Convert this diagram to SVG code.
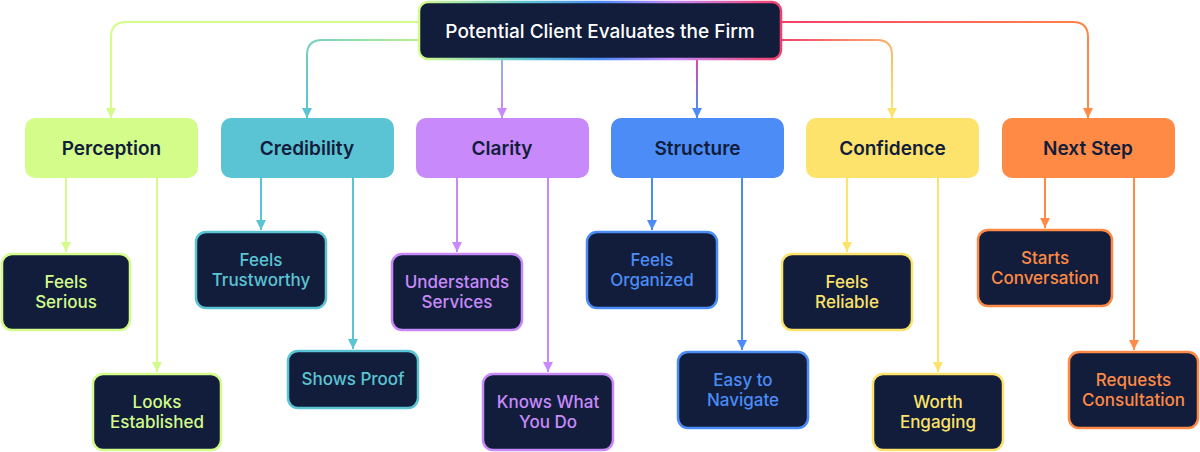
<svg xmlns="http://www.w3.org/2000/svg" width="1200" height="452" viewBox="0 0 1200 452">
<defs>
<style>
text{font-family:Inter,"Noto Sans",sans-serif;text-anchor:middle}
.cat{font-size:19px;font-weight:600;fill:#111d3a}
.ch{font-size:17px;font-weight:500}
.cbox{fill:#111d3a;stroke-width:2.5}
line,path{fill:none;stroke-width:2}
</style>
<linearGradient id="rg" x1="0" y1="0" x2="1" y2="0">
<stop offset="0" stop-color="#d4fc8a"/><stop offset="0.3" stop-color="#5bc4d4"/><stop offset="0.5" stop-color="#4b8cf7"/><stop offset="0.7" stop-color="#c88afa"/><stop offset="1" stop-color="#f43f6a"/>
</linearGradient>
<linearGradient id="gCred" gradientUnits="userSpaceOnUse" x1="418" y1="40" x2="307" y2="110"><stop offset="0" stop-color="#b8ef92"/><stop offset="1" stop-color="#5bc4d4"/></linearGradient>
<linearGradient id="gStr" gradientUnits="userSpaceOnUse" x1="0" y1="60" x2="0" y2="110"><stop offset="0" stop-color="#d94aa8"/><stop offset="1" stop-color="#4b8cf7"/></linearGradient>
<linearGradient id="gCla" gradientUnits="userSpaceOnUse" x1="0" y1="60" x2="0" y2="110"><stop offset="0" stop-color="#8fb3e8"/><stop offset="1" stop-color="#c88afa"/></linearGradient>
<linearGradient id="gCon" gradientUnits="userSpaceOnUse" x1="782" y1="40" x2="892" y2="110"><stop offset="0" stop-color="#f43f6a"/><stop offset="1" stop-color="#fde36b"/></linearGradient>
<linearGradient id="gNxt" gradientUnits="userSpaceOnUse" x1="782" y1="22" x2="1088" y2="110"><stop offset="0" stop-color="#f43f6a"/><stop offset="1" stop-color="#ff8a45"/></linearGradient>
<marker id="aT" viewBox="0 0 10 10" refX="10" refY="5" markerWidth="10" markerHeight="10" markerUnits="userSpaceOnUse" orient="auto"><path d="M0,0L10,5L0,10Z" style="fill:#5bc4d4;stroke:none"/></marker>
<marker id="aP" viewBox="0 0 10 10" refX="10" refY="5" markerWidth="10" markerHeight="10" markerUnits="userSpaceOnUse" orient="auto"><path d="M0,0L10,5L0,10Z" style="fill:#c88afa;stroke:none"/></marker>
<marker id="aB" viewBox="0 0 10 10" refX="10" refY="5" markerWidth="10" markerHeight="10" markerUnits="userSpaceOnUse" orient="auto"><path d="M0,0L10,5L0,10Z" style="fill:#4b8cf7;stroke:none"/></marker>
<marker id="aY" viewBox="0 0 10 10" refX="10" refY="5" markerWidth="10" markerHeight="10" markerUnits="userSpaceOnUse" orient="auto"><path d="M0,0L10,5L0,10Z" style="fill:#fde36b;stroke:none"/></marker>
<marker id="aO" viewBox="0 0 10 10" refX="10" refY="5" markerWidth="10" markerHeight="10" markerUnits="userSpaceOnUse" orient="auto"><path d="M0,0L10,5L0,10Z" style="fill:#ff8a45;stroke:none"/></marker>
<marker id="aL" viewBox="0 0 10 10" refX="10" refY="5" markerWidth="10" markerHeight="10" markerUnits="userSpaceOnUse" orient="auto"><path d="M0,0L10,5L0,10Z" style="fill:#d4fc8a;stroke:none"/></marker>
</defs>
<g id="connectors">
<path d="M418,22H126Q111,22 111,37V118" stroke="#d4fc8a" marker-end="url(#aL)"/>
<path d="M418,40H322Q307,40 307,55V118" stroke="url(#gCred)" marker-end="url(#aT)"/>
<path d="M502,60V118" stroke="url(#gCla)" marker-end="url(#aP)"/>
<path d="M697,60V118" stroke="url(#gStr)" marker-end="url(#aB)"/>
<path d="M782,40H877Q892,40 892,55V118" stroke="url(#gCon)" marker-end="url(#aY)"/>
<path d="M782,22H1073Q1088,22 1088,37V118" stroke="url(#gNxt)" marker-end="url(#aO)"/>
<g stroke="#d4fc8a"><line x1="66" y1="178" x2="66" y2="252" marker-end="url(#aL)"/><line x1="157" y1="178" x2="157" y2="372" marker-end="url(#aL)"/></g>
<g stroke="#5bc4d4"><line x1="261" y1="178" x2="261" y2="230" marker-end="url(#aT)"/><line x1="353" y1="178" x2="353" y2="349" marker-end="url(#aT)"/></g>
<g stroke="#c88afa"><line x1="457" y1="178" x2="457" y2="252" marker-end="url(#aP)"/><line x1="548" y1="178" x2="548" y2="372" marker-end="url(#aP)"/></g>
<g stroke="#4b8cf7"><line x1="652" y1="178" x2="652" y2="230" marker-end="url(#aB)"/><line x1="742" y1="178" x2="742" y2="350" marker-end="url(#aB)"/></g>
<g stroke="#fde36b"><line x1="847" y1="178" x2="847" y2="252" marker-end="url(#aY)"/><line x1="938" y1="178" x2="938" y2="372" marker-end="url(#aY)"/></g>
<g stroke="#ff8a45"><line x1="1045" y1="178" x2="1045" y2="228" marker-end="url(#aO)"/><line x1="1134" y1="178" x2="1134" y2="350" marker-end="url(#aO)"/></g>
</g>
<g id="root"><rect x="419" y="2" width="362" height="57" rx="9" fill="#111d3a" stroke="url(#rg)" stroke-width="2.5"/><text x="600" y="38" style="font-size:19px;font-weight:500;fill:#fff">Potential Client Evaluates the Firm</text></g>
<g id="perception"><rect x="25" y="118" width="173" height="60" rx="10" fill="#d4fc8a"/><text class="cat" x="111.5" y="155">Perception</text></g>
<g id="credibility"><rect x="221" y="118" width="173" height="60" rx="10" fill="#5bc4d4"/><text class="cat" x="307" y="155">Credibility</text></g>
<g id="clarity"><rect x="416" y="118" width="173" height="60" rx="10" fill="#c88afa"/><text class="cat" x="502" y="155">Clarity</text></g>
<g id="structure"><rect x="611" y="118" width="173" height="60" rx="10" fill="#4b8cf7"/><text class="cat" x="697.5" y="155">Structure</text></g>
<g id="confidence"><rect x="806" y="118" width="173" height="60" rx="10" fill="#fde36b"/><text class="cat" x="892.5" y="155">Confidence</text></g>
<g id="nextstep"><rect x="1002" y="118" width="173" height="60" rx="10" fill="#ff8a45"/><text class="cat" x="1088" y="155">Next Step</text></g>
<g id="feels-serious"><rect class="cbox" x="2" y="254" width="128" height="76" rx="10" stroke="#d4fc8a"/><text class="ch" x="66" y="288" fill="#d4fc8a">Feels<tspan x="66" dy="20">Serious</tspan></text></g>
<g id="looks-established"><rect class="cbox" x="93" y="374" width="128" height="76" rx="10" stroke="#d4fc8a"/><text class="ch" x="157" y="408" fill="#d4fc8a">Looks<tspan x="157" dy="20">Established</tspan></text></g>
<g id="feels-trustworthy"><rect class="cbox" x="196" y="232" width="130" height="76" rx="10" stroke="#5bc4d4"/><text class="ch" x="261" y="266" fill="#5bc4d4">Feels<tspan x="261" dy="20">Trustworthy</tspan></text></g>
<g id="shows-proof"><rect class="cbox" x="288" y="351" width="130" height="57" rx="10" stroke="#5bc4d4"/><text class="ch" x="353" y="385" fill="#5bc4d4">Shows Proof</text></g>
<g id="understands-services"><rect class="cbox" x="392" y="254" width="130" height="76" rx="10" stroke="#c88afa"/><text class="ch" x="457" y="288" fill="#c88afa">Understands<tspan x="457" dy="20">Services</tspan></text></g>
<g id="knows-what"><rect class="cbox" x="483" y="374" width="130" height="76" rx="10" stroke="#c88afa"/><text class="ch" x="548" y="408" fill="#c88afa">Knows What<tspan x="548" dy="20">You Do</tspan></text></g>
<g id="feels-organized"><rect class="cbox" x="587" y="232" width="130" height="76" rx="10" stroke="#4b8cf7"/><text class="ch" x="652" y="266" fill="#4b8cf7">Feels<tspan x="652" dy="20">Organized</tspan></text></g>
<g id="easy-navigate"><rect class="cbox" x="678" y="352" width="130" height="76" rx="10" stroke="#4b8cf7"/><text class="ch" x="743" y="386" fill="#4b8cf7">Easy to<tspan x="743" dy="20">Navigate</tspan></text></g>
<g id="feels-reliable"><rect class="cbox" x="782" y="254" width="130" height="76" rx="10" stroke="#fde36b"/><text class="ch" x="847" y="288" fill="#fde36b">Feels<tspan x="847" dy="20">Reliable</tspan></text></g>
<g id="worth-engaging"><rect class="cbox" x="873" y="374" width="130" height="76" rx="10" stroke="#fde36b"/><text class="ch" x="938" y="408" fill="#fde36b">Worth<tspan x="938" dy="20">Engaging</tspan></text></g>
<g id="starts-conversation"><rect class="cbox" x="978" y="230" width="134" height="76" rx="10" stroke="#ff8a45"/><text class="ch" x="1045" y="264" fill="#ff8a45">Starts<tspan x="1045" dy="20">Conversation</tspan></text></g>
<g id="requests-consultation"><rect class="cbox" x="1069" y="352" width="129" height="76" rx="10" stroke="#ff8a45"/><text class="ch" x="1133.5" y="386" fill="#ff8a45">Requests<tspan x="1133.5" dy="20">Consultation</tspan></text></g>
</svg>
